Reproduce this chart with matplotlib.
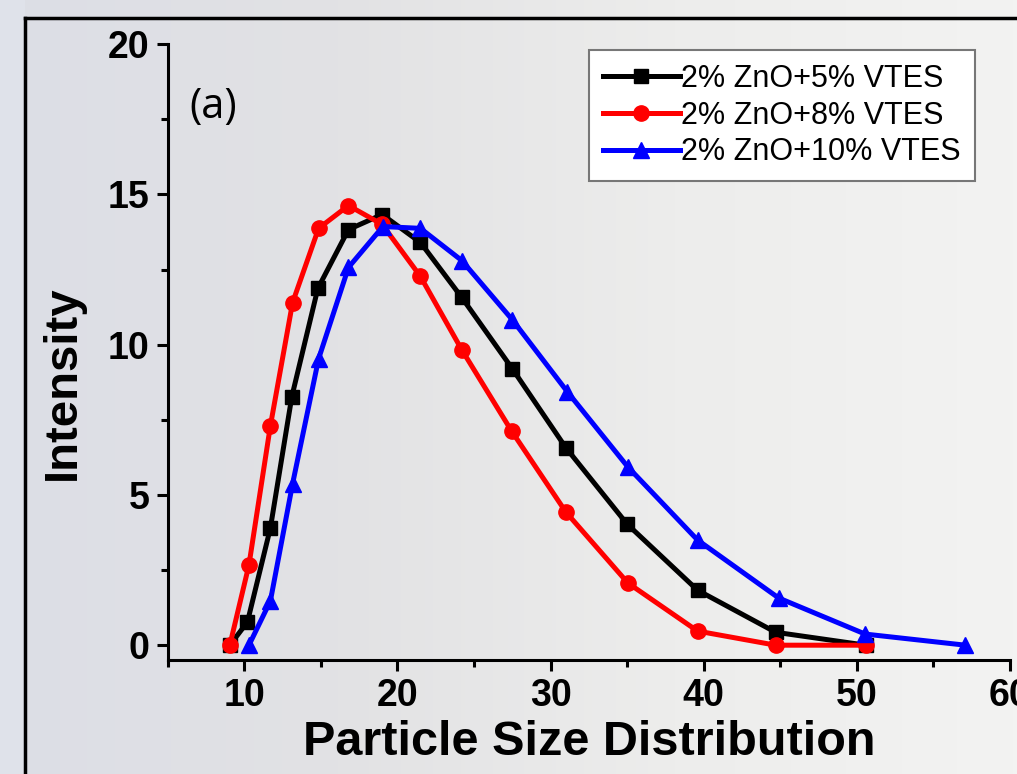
import numpy as np
import matplotlib.pyplot as plt
from matplotlib.patches import Rectangle
from matplotlib.colors import LinearSegmentedColormap

# size bins (nm)
size_5 = [9.05, 10.2, 11.7, 13.1, 14.8, 16.8, 19.0, 21.5, 24.2, 27.5, 31.0, 35.0, 39.6, 44.7, 50.6]
int_5 = [0.0, 0.77, 3.9, 8.27, 11.87, 13.83, 14.33, 13.4, 11.57, 9.2, 6.57, 4.03, 1.83, 0.43, 0.0]

size_8 = [9.05, 10.3, 11.7, 13.15, 14.85, 16.8, 19.0, 21.5, 24.2, 27.45, 31.0, 35.05, 39.6, 44.7, 50.6]
int_8 = [0.0, 2.67, 7.3, 11.4, 13.87, 14.63, 14.0, 12.27, 9.83, 7.13, 4.43, 2.07, 0.47, 0.0, 0.0]

size_10 = [10.3, 11.7, 13.15, 14.85, 16.8, 19.05, 21.5, 24.2, 27.5, 31.1, 35.05, 39.6, 44.9, 50.55, 57.1]
int_10 = [0.0, 1.47, 5.37, 9.53, 12.57, 13.93, 13.87, 12.8, 10.83, 8.43, 5.93, 3.5, 1.57, 0.37, 0.0]

labels = ["2% ZnO+5% VTES", "2% ZnO+8% VTES", "2% ZnO+10% VTES"]

plt.rcParams['font.family'] = ['Liberation Sans', 'DejaVu Sans']

fig = plt.figure(figsize=(10.17, 7.74), dpi=100)

# slide-like grey background with a black frame
bg = fig.add_axes([0, 0, 1, 1], zorder=-10)
grad = np.linspace(0, 1, 256).reshape(1, -1)
cmap = LinearSegmentedColormap.from_list("bg", ["#dcdee6", "#e2e2e4", "#ededec", "#f3f3f2"])
bg.imshow(grad, aspect='auto', cmap=cmap, extent=[0, 1, 0, 1])
bg.add_patch(Rectangle((0.0, 0.0), 0.025, 1, transform=bg.transAxes, color="#dfe2ea", lw=0))
bg.plot([0.025, 0.025], [0, 0.977], color="black", lw=2.5, transform=bg.transAxes)
bg.plot([0.025, 1.0], [0.977, 0.977], color="black", lw=2.5, transform=bg.transAxes)
bg.set_xlim(0, 1)
bg.set_ylim(0, 1)
bg.axis('off')

ax = fig.add_axes([0.165, 0.147, 0.828, 0.796])
ax.patch.set_alpha(0)

ax.plot(size_5, int_5, color="black", lw=3.6, marker="s", ms=10, label=labels[0], zorder=3)
ax.plot(size_8, int_8, color="#ff0000", lw=3.6, marker="o", ms=11, label=labels[1], zorder=4)
ax.plot(size_10, int_10, color="#0000ff", lw=3.6, marker="^", ms=12, label=labels[2], zorder=5)

ax.set_xlim(5, 60)
ax.set_ylim(-0.5, 20)
ax.set_xticks([10, 20, 30, 40, 50, 60])
ax.set_xticks([5, 15, 25, 35, 45, 55], minor=True)
ax.set_yticks([0, 5, 10, 15, 20])
ax.set_yticks([2.5, 7.5, 12.5, 17.5], minor=True)

for s in ["top", "right"]:
    ax.spines[s].set_visible(False)
for s in ["left", "bottom"]:
    ax.spines[s].set_linewidth(2.2)

ax.tick_params(which="major", direction="out", length=8, width=2.2, labelsize=27, pad=5)
ax.tick_params(which="minor", direction="out", length=5, width=2.2)
for t in ax.get_xticklabels() + ax.get_yticklabels():
    t.set_fontweight("bold")

ax.set_xlabel("Particle Size Distribution", fontsize=35, fontweight="bold", labelpad=4)
ax.set_ylabel("Intensity", fontsize=34, fontweight="bold")
ax.yaxis.set_label_coords(-0.099, 0.451)

ax.text(0.026, 0.898, "(a)", transform=ax.transAxes, fontsize=30,
        family=["Open Sans", "DejaVu Sans"], va="center", ha="left")

leg = ax.legend(loc="upper right", bbox_to_anchor=(0.958, 0.99), fontsize=22,
                frameon=True, fancybox=False, handlelength=2.5, handletextpad=0.05,
                labelspacing=0.22, borderpad=0.45, borderaxespad=0)
leg.get_frame().set_edgecolor("#777777")
leg.get_frame().set_linewidth(1.5)
leg.get_frame().set_facecolor("white")
leg.get_frame().set_alpha(1)

fig.savefig("out.png", dpi=100)
